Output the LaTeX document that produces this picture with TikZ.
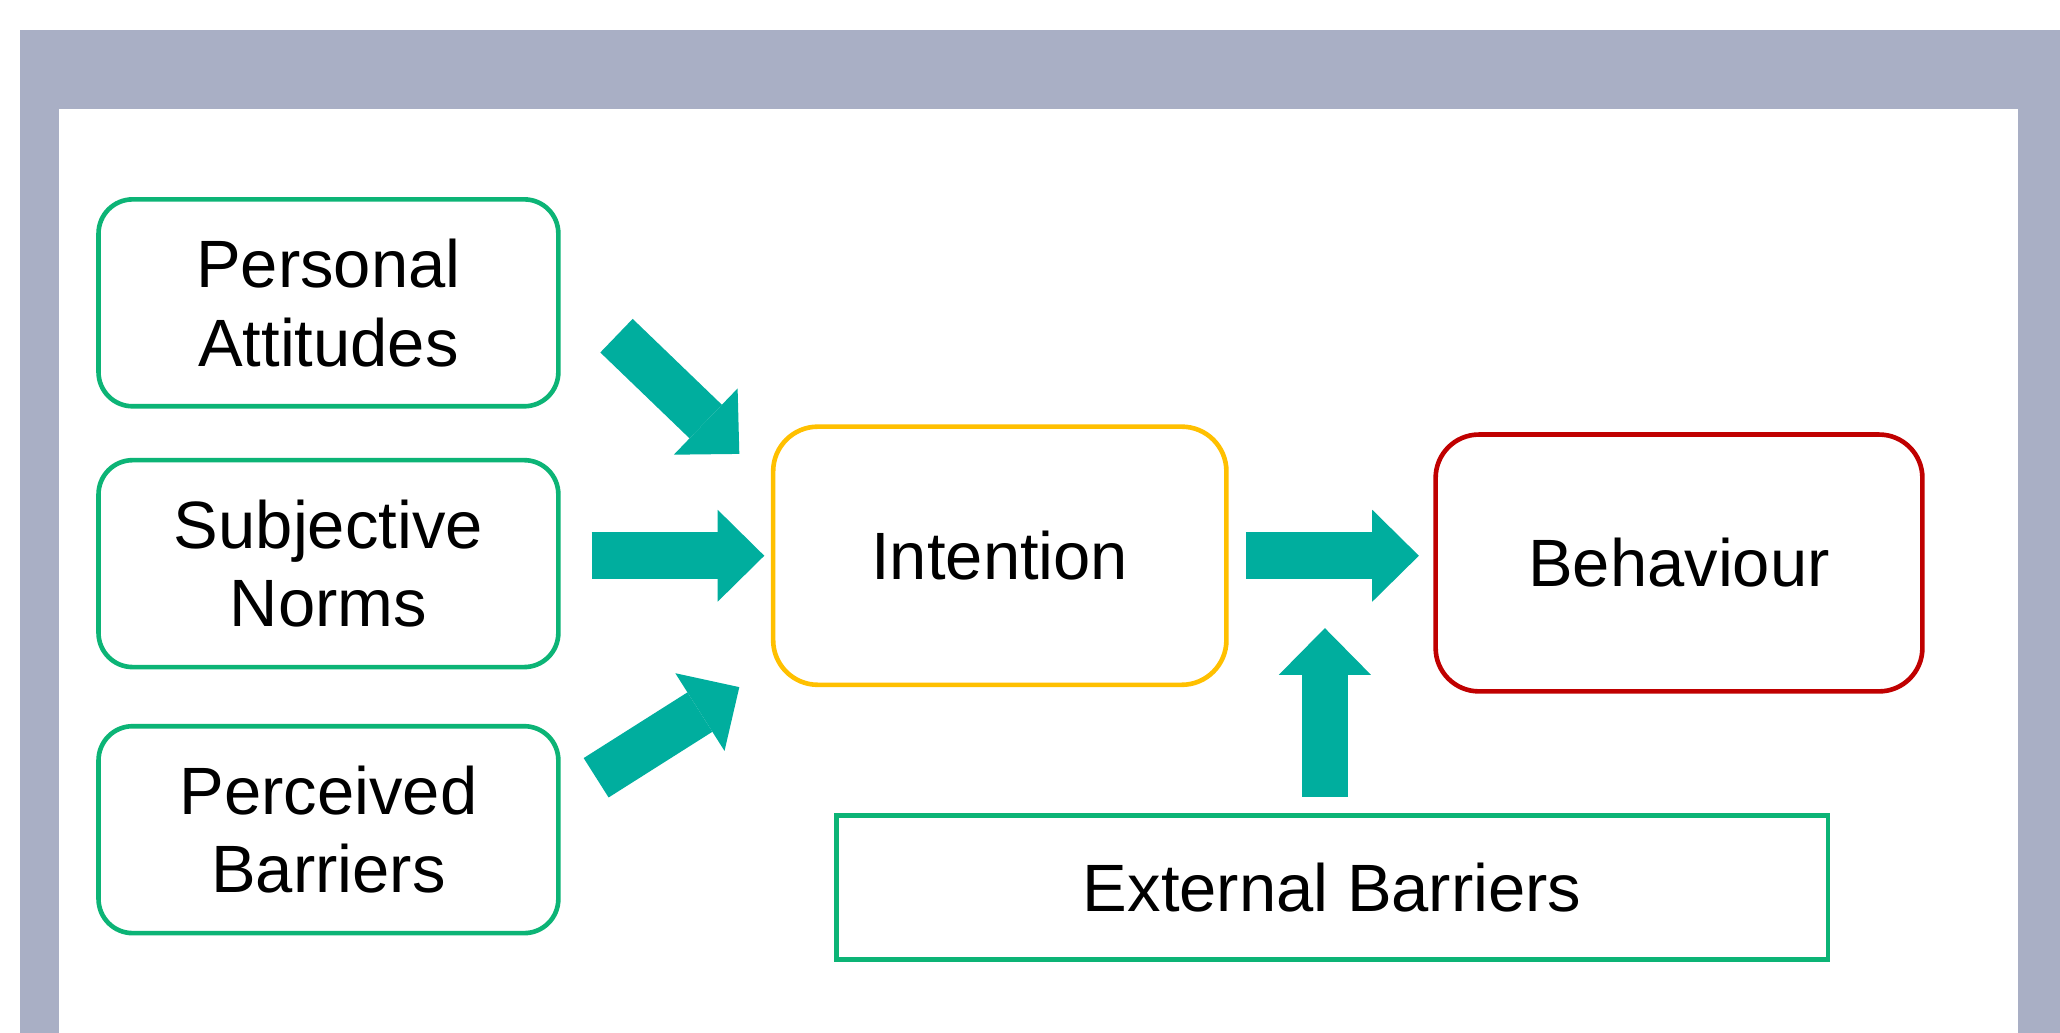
\documentclass[tikz,border=0pt]{standalone}
\usepackage{fontspec}
\setmainfont{Liberation Sans}
\usepackage{xcolor}
\usetikzlibrary{arrows.meta, positioning, calc}
\definecolor{framegrey}{RGB}{169,175,197}
\definecolor{boxgreen}{RGB}{12,180,118}
\definecolor{arrowteal}{RGB}{0,174,158}
\definecolor{intentyellow}{RGB}{255,192,0}
\definecolor{behavred}{RGB}{192,0,0}
\tikzstyle{factor} = [rectangle, rounded corners=0.52cm, minimum width=7cm, minimum height=3.15cm, align=center, draw=boxgreen, line width=2pt]
\tikzstyle{intent} = [rectangle, rounded corners=0.68cm, minimum width=6.9cm, minimum height=3.93cm, align=center, draw=intentyellow, line width=2pt]
\tikzstyle{outcome} = [rectangle, rounded corners=0.66cm, minimum width=7.41cm, minimum height=3.91cm, align=center, draw=behavred, line width=2pt]
\tikzstyle{barrier} = [rectangle, minimum width=15.09cm, minimum height=2.19cm, align=center, draw=boxgreen, line width=2pt]
\tikzstyle{blockarrow} = [line width=0.71cm, draw=arrowteal, -{Triangle[length=0.71cm, width=1.4cm, line width=0pt]}]

\begin{document}
\begin{tikzpicture}[node distance=4cm, font=\fontsize{29}{34}\selectfont]
    \useasboundingbox (-5,-7.14) rectangle (26.36,8.58);
    \fill[white] (-5,-7.14) rectangle (26.36,8.58);
    \fill[framegrey] (-4.7,-7.14) rectangle (26.36,8.12);
    \fill[white] (-4.1,-7.14) rectangle (25.72,6.92);

    \node (norms) [factor] {Subjective\\Norms};
    \node (attitudes) [factor, above of=norms, yshift=-0.03cm] {Personal\\Attitudes};
    \node (perceived) [factor, below of=norms, yshift=-0.05cm] {Perceived\\Barriers};
    \node (intention) [intent, right of=norms, xshift=6.22cm, yshift=0.12cm] {Intention};
    \node (behaviour) [outcome, right of=intention, xshift=6.34cm, yshift=-0.11cm] {Behaviour};
    \node (external) [barrier, below of=intention, xshift=5.06cm, yshift=-1.05cm] {External Barriers};
    \coordinate (join) at ($(intention.east)!0.47!(behaviour.west)$);

    \draw [blockarrow] ($(attitudes.east)+(0.85,-0.50)$) -- ($(intention.north west)+(-0.48,-0.45)$);
    \draw [blockarrow, shorten <=0.47cm, shorten >=0.1cm] (norms.east |- intention.west) -- (intention.west);
    \draw [blockarrow] ($(perceived.east)+(0.54,0.79)$) -- ($(intention.south west)+(-0.48,0)$);
    \draw [blockarrow, shorten <=0.26cm, shorten >=0.22cm] (intention.east) -- (intention.east -| behaviour.west);
    \draw [blockarrow, shorten <=0.25cm, shorten >=1.05cm] (external.north -| join) -- (join);
\end{tikzpicture}
\end{document}
